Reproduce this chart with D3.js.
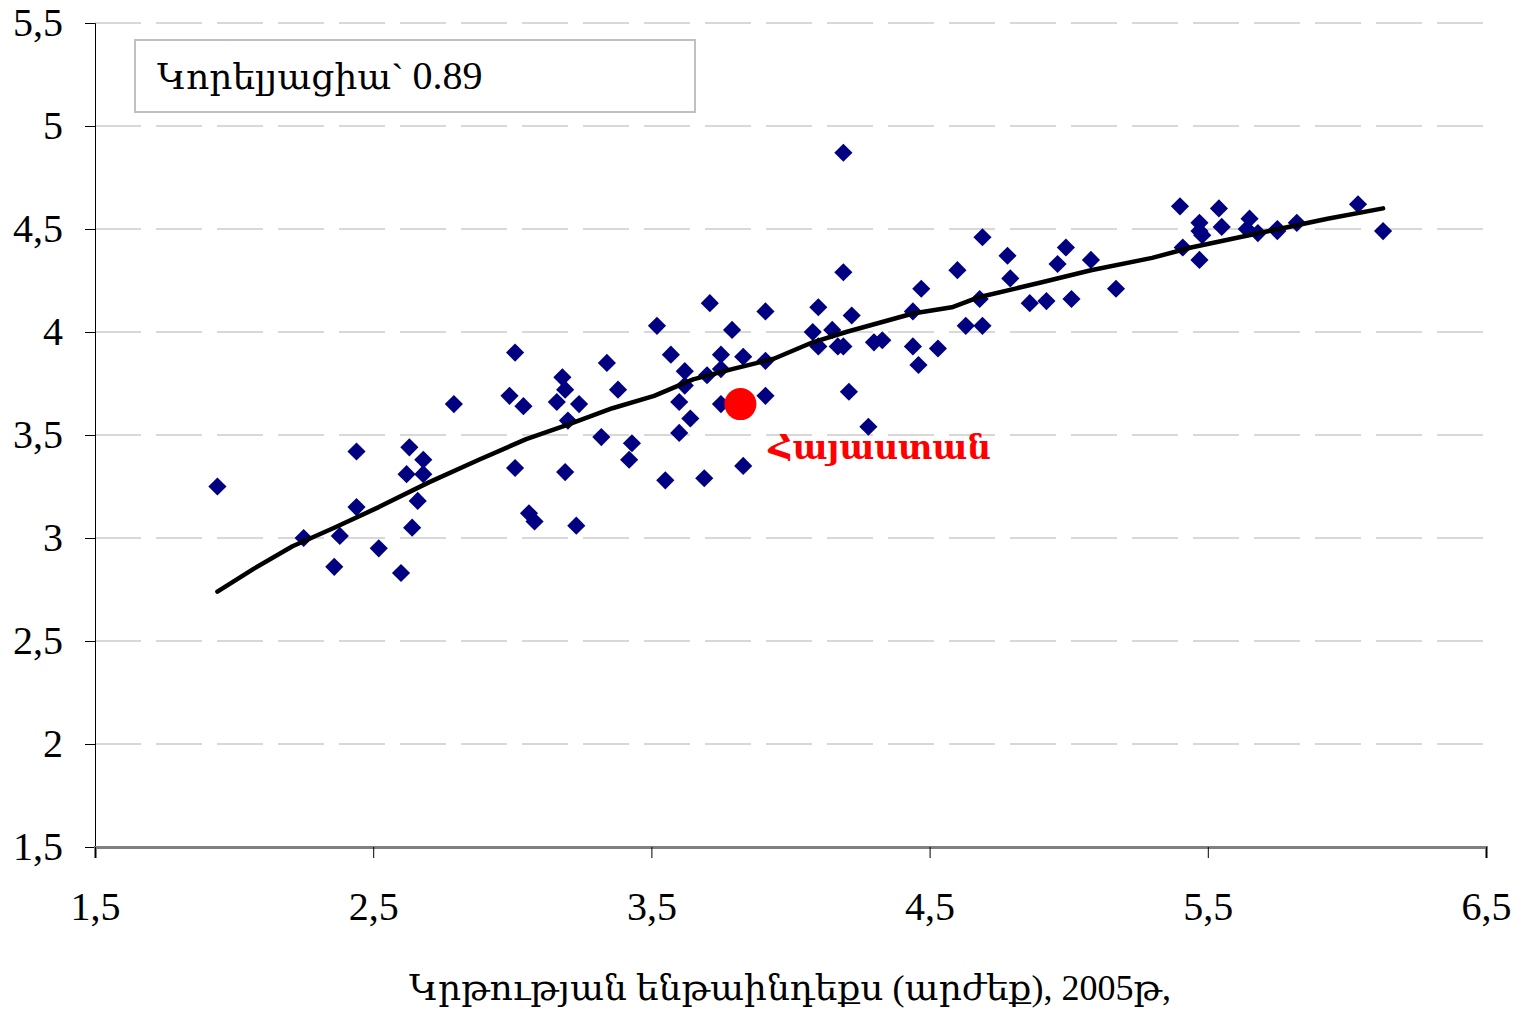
<!DOCTYPE html>
<html>
<head>
<meta charset="utf-8">
<script src="https://cdn.jsdelivr.net/npm/d3@7"></script>
<style>
  body { margin: 0; background: #fff; }
  text { font-family: "Liberation Serif", "DejaVu Serif", serif; fill: #000; }
</style>
</head>
<body>
<div id="chart"></div>
<script>
var svgWidth = 1524;
var svgHeight = 1014;

// country points: education index vs. second indicator
var eduX = [1.94, 2.25, 2.36, 2.38, 2.44, 2.44, 2.52, 2.60, 2.62, 2.63, 2.64, 2.66, 2.68, 2.68, 2.79,
  2.99, 3.01, 3.01, 3.04, 3.06, 3.08, 3.16, 3.18, 3.19, 3.19, 3.20, 3.23, 3.24, 3.32, 3.34,
  3.38, 3.42, 3.43, 3.52, 3.55, 3.57, 3.60, 3.60, 3.62, 3.62, 3.64, 3.69, 3.70, 3.71, 3.75,
  3.75, 3.75, 3.79, 3.83, 3.83, 3.91, 3.91, 3.91, 4.08, 4.10, 4.10, 4.15, 4.17, 4.19, 4.19,
  4.19, 4.21, 4.22, 4.28, 4.30, 4.33, 4.44, 4.44, 4.46, 4.47, 4.53, 4.60, 4.63, 4.68, 4.69,
  4.69, 4.78, 4.79, 4.86, 4.92, 4.96, 4.99, 5.01, 5.08, 5.17, 5.40, 5.54, 5.47, 5.55, 5.65,
  5.64, 5.68, 5.75, 5.82, 5.48, 5.47, 5.41, 5.47, 6.04, 6.13, 5.75];
var eduY = [3.25, 3.00, 2.86, 3.01, 3.42, 3.15, 2.95, 2.83, 3.31, 3.44, 3.05, 3.18, 3.38, 3.31, 3.65,
  3.69, 3.90, 3.34, 3.64, 3.12, 3.08, 3.66, 3.78, 3.72, 3.32, 3.57, 3.06, 3.65, 3.49, 3.85,
  3.72, 3.38, 3.46, 4.03, 3.28, 3.89, 3.51, 3.66, 3.74, 3.81, 3.58, 3.29, 3.79, 4.14, 3.89,
  3.65, 3.82, 4.01, 3.35, 3.88, 4.10, 3.86, 3.69, 4.00, 3.93, 4.12, 4.01, 3.93, 3.93, 4.29,
  4.87, 3.71, 4.08, 3.54, 3.95, 3.96, 4.10, 3.93, 3.84, 4.21, 3.92, 4.30, 4.03, 4.16, 4.03,
  4.46, 4.37, 4.26, 4.14, 4.15, 4.33, 4.41, 4.16, 4.35, 4.21, 4.61, 4.60, 4.53, 4.51, 4.55,
  4.50, 4.48, 4.49, 4.53, 4.47, 4.49, 4.41, 4.35, 4.62, 4.49, 4.50];

// smoothed trend line
var trendX = [1.94, 2.07, 2.21, 2.36, 2.52, 2.70, 2.88, 3.05, 3.20, 3.36, 3.51, 3.65, 3.79, 3.94,
  4.08, 4.20, 4.44, 4.58, 4.68, 4.90, 5.08, 5.30, 5.44, 5.58, 5.72, 5.93, 6.13];
var trendY = [2.74, 2.85, 2.96, 3.05, 3.15, 3.27, 3.38, 3.48, 3.55, 3.63, 3.69, 3.77, 3.82, 3.87,
  3.95, 4.00, 4.09, 4.12, 4.17, 4.24, 4.30, 4.36, 4.41, 4.45, 4.49, 4.55, 4.60];

// highlighted country
var armeniaX = 3.82;
var armeniaY = 3.65;
var armeniaLabel = "Հայաստան";

var xTicks = [1.5, 2.5, 3.5, 4.5, 5.5, 6.5];
var yTicks = [1.5, 2, 2.5, 3, 3.5, 4, 4.5, 5, 5.5];
var corrLabel = "Կորելյացիա` 0.89";
var xTitle = "Կրթության ենթաինդեքս (արժեք), 2005թ,";

var svg = d3.select("#chart")
  .append("svg")
  .attr("width", svgWidth)
  .attr("height", svgHeight);

var xScale = d3.scaleLinear().domain([1.5, 6.5]).range([95, 1486]);
var yScale = d3.scaleLinear().domain([1.5, 5.5]).range([847, 23]);

var fmt = d => String(d).replace(".", ",");

// dashed gridlines
svg.append("g")
  .selectAll("line")
  .data(yTicks.slice(1))
  .enter()
  .append("line")
  .attr("x1", xScale(1.5))
  .attr("x2", xScale(6.5))
  .attr("y1", d => yScale(d))
  .attr("y2", d => yScale(d))
  .attr("stroke", "#cccccc")
  .attr("stroke-width", 1.5)
  .attr("stroke-dasharray", "46,15");

// y axis
var leftAxis = d3.axisLeft(yScale).tickValues(yTicks).tickFormat(fmt).tickSize(10).tickPadding(22);
var yAxis = svg.append("g")
  .attr("transform", `translate(${xScale(1.5)},0)`)
  .call(leftAxis);
yAxis.select(".domain").attr("stroke", "#000").attr("stroke-width", 1);
yAxis.selectAll(".tick line").attr("stroke", "#000");
yAxis.selectAll("text").style("font-size", "40px").attr("fill", "#000");

// x axis
var bottomAxis = d3.axisBottom(xScale).tickValues(xTicks).tickFormat(fmt).tickSize(11).tickPadding(34);
var xAxis = svg.append("g")
  .attr("transform", `translate(0,${yScale(1.5)})`)
  .call(bottomAxis);
xAxis.select(".domain").attr("stroke", "#808080").attr("stroke-width", 3);
xAxis.selectAll(".tick line").attr("stroke", "#000");
xAxis.selectAll("text").style("font-size", "40px").attr("fill", "#000");

// scatter points
svg.append("g")
  .selectAll("path")
  .data(eduX.map((x, i) => ({x: x, y: eduY[i]})))
  .enter()
  .append("path")
  .attr("d", d3.symbol().type(d3.symbolSquare).size(165))
  .attr("transform", d => `translate(${xScale(d.x)},${yScale(d.y)}) rotate(45)`)
  .attr("fill", "#000080");

// trend line
var line = d3.line()
  .x(d => xScale(d[0]))
  .y(d => yScale(d[1]))
  .curve(d3.curveLinear);

svg.append("path")
  .datum(trendX.map((x, i) => [x, trendY[i]]))
  .attr("d", line)
  .attr("fill", "none")
  .attr("stroke", "#000")
  .attr("stroke-width", 4.5)
  .attr("stroke-linejoin", "round")
  .attr("stroke-linecap", "round");

// Armenia
svg.append("circle")
  .attr("cx", xScale(armeniaX))
  .attr("cy", yScale(armeniaY))
  .attr("r", 16)
  .attr("fill", "#ff0000");

svg.append("text")
  .attr("x", xScale(armeniaX) + 28)
  .attr("y", yScale(armeniaY) + 55)
  .style("font-size", "33px")
  .style("font-weight", "bold")
  .style("fill", "#ff0000")
  .text(armeniaLabel);

// correlation box
svg.append("rect")
  .attr("x", 135)
  .attr("y", 40)
  .attr("width", 560)
  .attr("height", 72)
  .attr("fill", "#fff")
  .attr("stroke", "#c0c0c0")
  .attr("stroke-width", 2);

svg.append("text")
  .attr("x", 157)
  .attr("y", 89)
  .style("font-size", "36px")
  .text("Կորելյացիա` ")
  .append("tspan")
  .style("font-size", "40px")
  .text(corrLabel.split(" ")[1]);

// x axis title
svg.append("text")
  .attr("x", 790)
  .attr("y", 1000)
  .attr("text-anchor", "middle")
  .style("font-size", "36px")
  .text(xTitle);
</script>
</body>
</html>
